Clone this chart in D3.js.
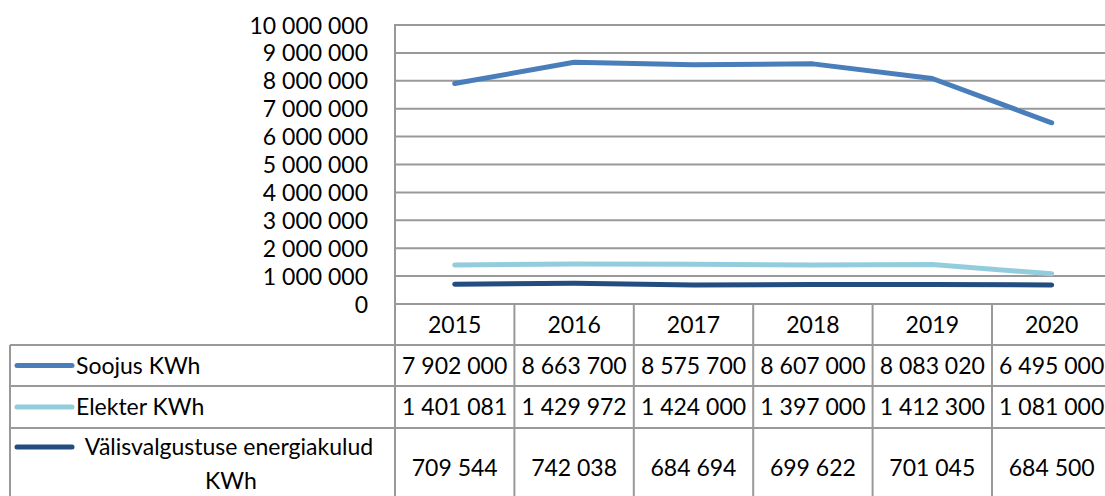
<!DOCTYPE html>
<html>
<head>
<meta charset="utf-8">
<script src="https://cdn.jsdelivr.net/npm/d3@7/dist/d3.min.js"></script>
<style>
	body { margin: 0; background: #fff; }
	svg text { font-family: Lato, "Open Sans", sans-serif; font-size: 23px; fill: #000; }
</style>
</head>
<body>
<svg id="chart" width="1105" height="496"></svg>
<script>
var years = ["2015", "2016", "2017", "2018", "2019", "2020"];
var seriesNames = ["Soojus KWh", "Elekter KWh", "Välisvalgustuse energiakulud KWh"];
var soojus = [7902000, 8663700, 8575700, 8607000, 8083020, 6495000];
var elekter = [1401081, 1429972, 1424000, 1397000, 1412300, 1081000];
var valisvalgustus = [709544, 742038, 684694, 699622, 701045, 684500];
var yTicks = [0, 1000000, 2000000, 3000000, 4000000, 5000000, 6000000, 7000000, 8000000, 9000000, 10000000];
var colors = ["#4a7ebb", "#93cddd", "#234c7f"];

var sizes = {
	plotLeft: 395,
	plotTop: 25,
	plotBottom: 304,
	colWidth: 119.4,
	tableLeft: 10,
	rowLines: [345, 386, 428, 510]
};
var gridColor = "#999";

var fmt = d3.formatLocale({decimal: ",", thousands: " ", grouping: [3], currency: ["", ""]}).format(",d");

var svg = d3.select("#chart");

var xScale = d3.scaleBand()
	.domain(years)
	.range([sizes.plotLeft, sizes.plotLeft + sizes.colWidth * years.length]);
var yScale = d3.scaleLinear()
	.domain([0, 10000000])
	.range([sizes.plotBottom, sizes.plotTop]);

// gridlines
svg.append("g").selectAll("line")
	.data(yTicks).enter()
	.append("line")
	.attr("x1", sizes.plotLeft)
	.attr("x2", 1105)
	.attr("y1", function(d){ return yScale(d); })
	.attr("y2", function(d){ return yScale(d); })
	.attr("stroke", gridColor)
	.attr("stroke-width", 2);

// y axis labels
var yAxis = d3.axisLeft(yScale)
	.tickValues(yTicks)
	.tickFormat(fmt)
	.tickSize(0)
	.tickPadding(27);
var yAxisG = svg.append("g")
	.attr("transform", "translate(" + sizes.plotLeft + ",0)")
	.call(yAxis);
yAxisG.select(".domain").remove();
yAxisG.selectAll("text")
	.attr("font-family", null)
	.attr("font-size", null)
	.attr("fill", null)
	.attr("dy", "0.35em");

// table grid
var tableBottom = sizes.rowLines[sizes.rowLines.length - 1];
// vertical lines at column boundaries
var colEdges = years.map(function(y){ return xScale(y); });
colEdges.push(xScale.range()[1]);
svg.append("g").selectAll("line")
	.data(colEdges).enter()
	.append("line")
	.attr("x1", function(d){ return d; })
	.attr("x2", function(d){ return d; })
	.attr("y1", function(d, i){ return i === 0 ? sizes.plotTop - 1 : sizes.plotBottom; })
	.attr("y2", tableBottom)
	.attr("stroke", gridColor)
	.attr("stroke-width", 2);
// row lines
svg.append("g").selectAll("line")
	.data(sizes.rowLines).enter()
	.append("line")
	.attr("x1", sizes.tableLeft)
	.attr("x2", 1105)
	.attr("y1", function(d){ return d; })
	.attr("y2", function(d){ return d; })
	.attr("stroke", gridColor)
	.attr("stroke-width", 2);
svg.append("line")
	.attr("x1", sizes.tableLeft).attr("x2", sizes.tableLeft)
	.attr("y1", sizes.rowLines[0]).attr("y2", tableBottom)
	.attr("stroke", gridColor)
	.attr("stroke-width", 2);

// year headers
svg.append("g").selectAll("text")
	.data(years).enter()
	.append("text")
	.attr("x", function(d){ return xScale(d) + xScale.bandwidth() / 2; })
	.attr("y", (sizes.plotBottom + sizes.rowLines[0]) / 2)
	.attr("dy", "0.35em")
	.attr("text-anchor", "middle")
	.text(function(d){ return d; });

// lines
var allSeries = [soojus, elekter, valisvalgustus];
var line = d3.line()
	.x(function(d, i){ return xScale(years[i]) + xScale.bandwidth() / 2; })
	.y(function(d){ return yScale(d); });
svg.append("g").selectAll("path")
	.data(allSeries).enter()
	.append("path")
	.attr("d", line)
	.attr("fill", "none")
	.attr("stroke", function(d, i){ return colors[i]; })
	.attr("stroke-width", 5)
	.attr("stroke-linecap", "round")
	.attr("stroke-linejoin", "round");

// table rows
allSeries.forEach(function(values, r){
	var top = sizes.rowLines[r], bottom = sizes.rowLines[r + 1];
	var mid = (top + bottom) / 2;
	var keyY = r === 2 ? top + 19 : mid;
	svg.append("line")
		.attr("x1", 17).attr("x2", 72)
		.attr("y1", keyY).attr("y2", keyY)
		.attr("stroke", colors[r])
		.attr("stroke-width", 5)
		.attr("stroke-linecap", "round");
	if (r === 2) {
		svg.append("text").attr("x", 229).attr("y", keyY).attr("dy", "0.35em")
			.attr("text-anchor", "middle").text("Välisvalgustuse energiakulud");
		svg.append("text").attr("x", 231).attr("y", keyY + 34).attr("dy", "0.35em")
			.attr("text-anchor", "middle").text("KWh");
	} else {
		svg.append("text").attr("x", 76).attr("y", keyY).attr("dy", "0.35em")
			.text(seriesNames[r]);
	}
	svg.append("g").selectAll("text")
		.data(values).enter()
		.append("text")
		.attr("x", function(d, i){ return xScale(years[i]) + xScale.bandwidth() / 2; })
		.attr("y", r === 2 ? top + 40 : mid)
		.attr("dy", "0.35em")
		.attr("text-anchor", "middle")
		.text(function(d){ return fmt(d); });
});
</script>
</body>
</html>
